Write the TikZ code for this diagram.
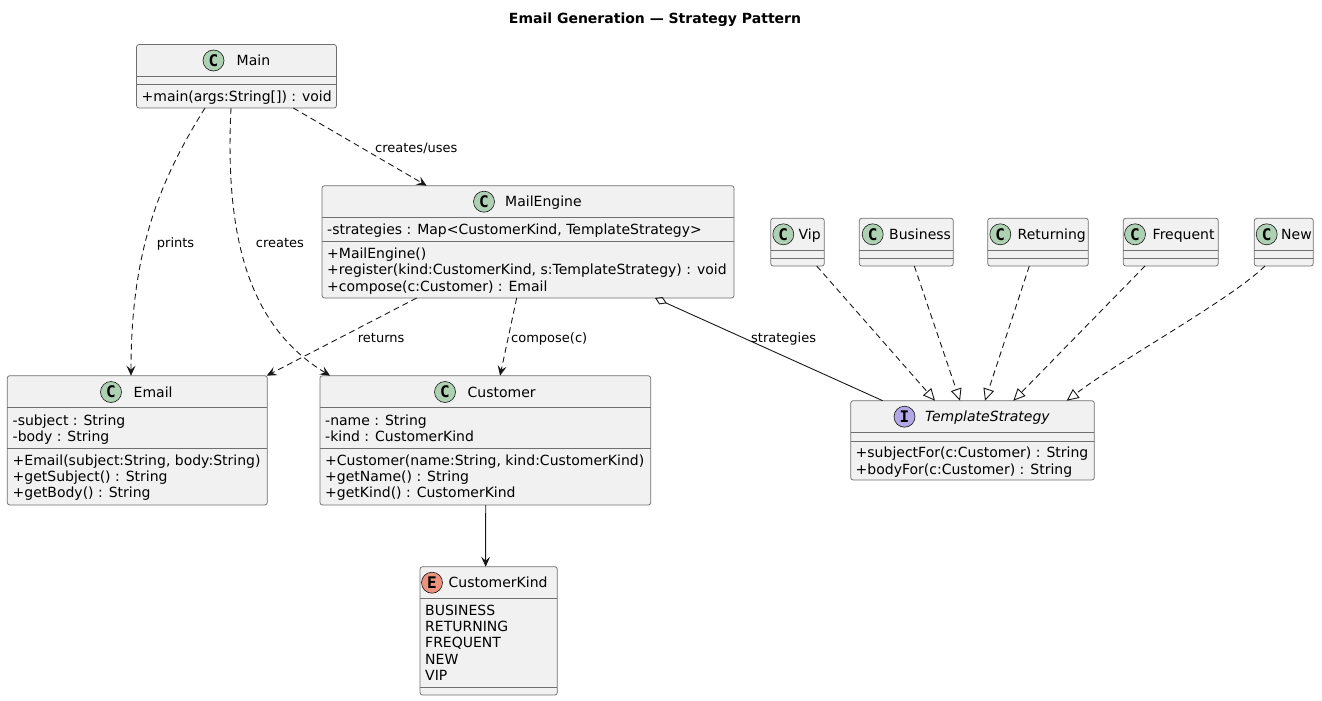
\documentclass[tikz,border=0pt]{standalone}
\usepackage{fontspec}
\setmainfont{DejaVu Sans}
\newfontfamily\spotfont{DejaVu Sans Mono}
\usetikzlibrary{arrows.meta,calc}
\definecolor{boxfill}{HTML}{F1F1F1}
\definecolor{boxline}{HTML}{6F6F6F}
\definecolor{edgeline}{HTML}{181818}
\definecolor{spotC}{HTML}{ADD1B2}
\definecolor{spotE}{HTML}{EB937F}
\definecolor{spotI}{HTML}{B4A7E5}
\begin{document}
\begin{tikzpicture}[x=1pt,y=-1pt,
  cbox/.style={draw=boxline,fill=boxfill,line width=0.75pt,rounded corners=2.5pt,
     anchor=north west,inner sep=0pt,outer sep=0pt},
  sepl/.style={draw=boxline,line width=0.75pt},
  txt/.style={anchor=base west,inner sep=0pt,font=\fontsize{14}{16}\selectfont},
  lbl/.style={anchor=base west,inner sep=0pt,font=\fontsize{13}{15}\selectfont},
  spot/.style={circle,draw=edgeline,line width=0.6pt,minimum size=21pt,inner sep=0pt,
     font=\fontsize{16}{16}\selectfont\spotfont\bfseries},
  dep/.style={draw=edgeline,line width=0.9pt,dash pattern=on 6pt off 4pt,
     -{Stealth[length=10pt,width=9pt,inset=4pt]}},
  real/.style={draw=edgeline,line width=0.9pt,dash pattern=on 6pt off 4pt,
     -{Triangle[open,length=12pt,width=11pt,line width=0.9pt]}},
  agg/.style={draw=edgeline,line width=0.9pt,
     {Diamond[open,length=13pt,width=8pt,line width=0.9pt]}-},
  assoc/.style={draw=edgeline,line width=0.9pt,
     -{Stealth[length=10pt,width=9pt,inset=4pt]}}
]
\path[use as bounding box] (0,0) rectangle (1322,701);

% title
\node[anchor=base,inner sep=0pt,font=\fontsize{14}{16}\selectfont\bfseries] (title) at (655,24) {Email Generation — Strategy Pattern};

% Main
\node[cbox,minimum width=200pt,minimum height=63.5pt] (main) at (136.5,44.5) {};
\draw[sepl] (136.5,76.5) -- (336.5,76.5);
\draw[sepl] (136.5,84.5) -- (336.5,84.5);
\node[spot,fill=spotC] (mainspot) at (213.5,60.5) {C};
\node[txt] (mainname) at (236.5,65.5) {Main};
\node[txt] (mainm1) at (141.5,101.5) {+main(args:String[]) : void};

% MailEngine
\node[cbox,minimum width=412pt,minimum height=112.3pt] (mail) at (322,185.7) {};
\draw[sepl] (322,217.3) -- (734,217.3);
\draw[sepl] (322,241.8) -- (734,241.8);
\node[spot,fill=spotC] (mailspot) at (484,201.7) {C};
\node[txt] (mailname) at (505,206.7) {MailEngine};
\node[txt] (maila1) at (327,234.5) {-strategies : Map<CustomerKind, TemplateStrategy>};
\node[txt] (mailm1) at (327,258.5) {+MailEngine()};
\node[txt] (mailm2) at (327,274.8) {+register(kind:CustomerKind, s:TemplateStrategy) : void};
\node[txt] (mailm3) at (327,291) {+compose(c:Customer) : Email};

% Email
\node[cbox,minimum width=260pt,minimum height=129.3pt] (email) at (7.3,375.7) {};
\draw[sepl] (7.3,407) -- (267.3,407);
\draw[sepl] (7.3,448) -- (267.3,448);
\node[spot,fill=spotC] (emailspot) at (111,392) {C};
\node[txt] (emailname) at (133.5,397) {Email};
\node[txt] (emaila1) at (12.5,425) {-subject : String};
\node[txt] (emaila2) at (12.5,441.3) {-body : String};
\node[txt] (emailm1) at (12.5,465) {+Email(subject:String, body:String)};
\node[txt] (emailm2) at (12.5,481.3) {+getSubject() : String};
\node[txt] (emailm3) at (12.5,497.6) {+getBody() : String};

% Customer
\node[cbox,minimum width=330.7pt,minimum height=129.3pt] (cust) at (320,375.7) {};
\draw[sepl] (320,407) -- (650.7,407);
\draw[sepl] (320,448) -- (650.7,448);
\node[spot,fill=spotC] (custspot) at (445,392) {C};
\node[txt] (custname) at (467.5,397) {Customer};
\node[txt] (custa1) at (325,425) {-name : String};
\node[txt] (custa2) at (325,441.3) {-kind : CustomerKind};
\node[txt] (custm1) at (325,465) {+Customer(name:String, kind:CustomerKind)};
\node[txt] (custm2) at (325,481.3) {+getName() : String};
\node[txt] (custm3) at (325,497.6) {+getKind() : CustomerKind};

% CustomerKind
\node[cbox,minimum width=137.3pt,minimum height=128.3pt] (kind) at (420,566.7) {};
\draw[sepl] (420,598.3) -- (557.3,598.3);
\draw[sepl] (420,687.3) -- (557.3,687.3);
\node[spot,fill=spotE] (kindspot) at (432,582.7) {E};
\node[txt] (kindname) at (448.5,587.7) {CustomerKind};
\node[txt] (kind1) at (425,615.3) {BUSINESS};
\node[txt] (kind2) at (425,631.6) {RETURNING};
\node[txt] (kind3) at (425,647.9) {FREQUENT};
\node[txt] (kind4) at (425,664.2) {NEW};
\node[txt] (kind5) at (425,680.5) {VIP};

% TemplateStrategy
\node[cbox,minimum width=243.6pt,minimum height=79.3pt] (ts) at (850.7,400.7) {};
\draw[sepl] (850.7,432.3) -- (1094.3,432.3);
\draw[sepl] (850.7,441) -- (1094.3,441);
\node[spot,fill=spotI] (tsspot) at (904.5,416.7) {I};
\node[txt,font=\fontsize{14}{16}\selectfont\itshape] (tsname) at (925,421.7) {TemplateStrategy};
\node[txt] (tsm1) at (855.5,457.5) {+subjectFor(c:Customer) : String};
\node[txt] (tsm2) at (855.5,474) {+bodyFor(c:Customer) : String};

% small strategy classes
\node[cbox,minimum width=53.6pt,minimum height=47.7pt] (vip) at (770.7,218.3) {};
\draw[sepl] (770.7,250.5) -- (824.3,250.5);
\draw[sepl] (770.7,258.3) -- (824.3,258.3);
\node[spot,fill=spotC] (vipspot) at (783.3,234.3) {C};
\node[txt] (vipname) at (798.5,239.3) {Vip};

\node[cbox,minimum width=94pt,minimum height=47.7pt] (bus) at (859.3,218.3) {};
\draw[sepl] (859.3,250.5) -- (953.3,250.5);
\draw[sepl] (859.3,258.3) -- (953.3,258.3);
\node[spot,fill=spotC] (busspot) at (872.7,234.3) {C};
\node[txt] (busname) at (889,239.3) {Business};

\node[cbox,minimum width=100.6pt,minimum height=47.7pt] (ret) at (987.7,218.3) {};
\draw[sepl] (987.7,250.5) -- (1088.3,250.5);
\draw[sepl] (987.7,258.3) -- (1088.3,258.3);
\node[spot,fill=spotC] (retspot) at (1000.3,234.3) {C};
\node[txt] (retname) at (1017.5,239.3) {Returning};

\node[cbox,minimum width=95pt,minimum height=47.7pt] (freq) at (1123.3,218.3) {};
\draw[sepl] (1123.3,250.5) -- (1218.3,250.5);
\draw[sepl] (1123.3,258.3) -- (1218.3,258.3);
\node[spot,fill=spotC] (freqspot) at (1135,234.3) {C};
\node[txt] (freqname) at (1152.5,239.3) {Frequent};

\node[cbox,minimum width=59pt,minimum height=47.7pt] (new) at (1254.3,218.3) {};
\draw[sepl] (1254.3,250.5) -- (1313.3,250.5);
\draw[sepl] (1254.3,258.3) -- (1313.3,258.3);
\node[spot,fill=spotC] (newspot) at (1266.7,234.3) {C};
\node[txt] (newname) at (1281,239.3) {New};

% connectors
\draw[dep] ([xshift=56.8pt]main.south) -- ([xshift=-101.3pt]mail.north);
\draw[dep] ([xshift=-31.5pt]main.south) .. controls (160,180) and (131,250) .. ([xshift=-6.3pt]email.north);
\draw[dep] ([xshift=-5.5pt]main.south) .. controls (224,250) and (255,330) .. ([xshift=-155.3pt]cust.north);
\draw[dep] ([xshift=-111.3pt]mail.south) -- ([xshift=-0.6pt]email.north east);
\draw[dep] ([xshift=-11.3pt]mail.south) -- ([xshift=14.7pt]cust.north);
\draw[agg] ([xshift=127pt]mail.south) -- ([xshift=-89.8pt]ts.north);
\draw[real] ([xshift=19.2pt]vip.south) -- ([xshift=-37.5pt]ts.north);
\draw[real] ([xshift=8pt]bus.south) -- ([xshift=-12.5pt]ts.north);
\draw[real] ([xshift=-8.7pt]ret.south) -- ([xshift=12.5pt]ts.north);
\draw[real] ([xshift=-25.8pt]freq.south) -- ([xshift=40.8pt]ts.north);
\draw[real] ([xshift=-18.8pt]new.south) .. controls (1230,300) and (1120,360) .. ([xshift=94.2pt]ts.north);
\draw[assoc] ([xshift=0.35pt]cust.south) -- ([xshift=-3pt]kind.north);

% labels
\node[lbl] (lcu) at (375,152.2) {creates/uses};
\node[lbl] (lpr) at (156.7,247.2) {prints};
\node[lbl] (lcr) at (255.7,247.2) {creates};
\node[lbl] (lre) at (357.7,342.2) {returns};
\node[lbl] (lco) at (511,342.2) {compose(c)};
\node[lbl] (lst) at (751,342.2) {strategies};
\end{tikzpicture}
\end{document}
